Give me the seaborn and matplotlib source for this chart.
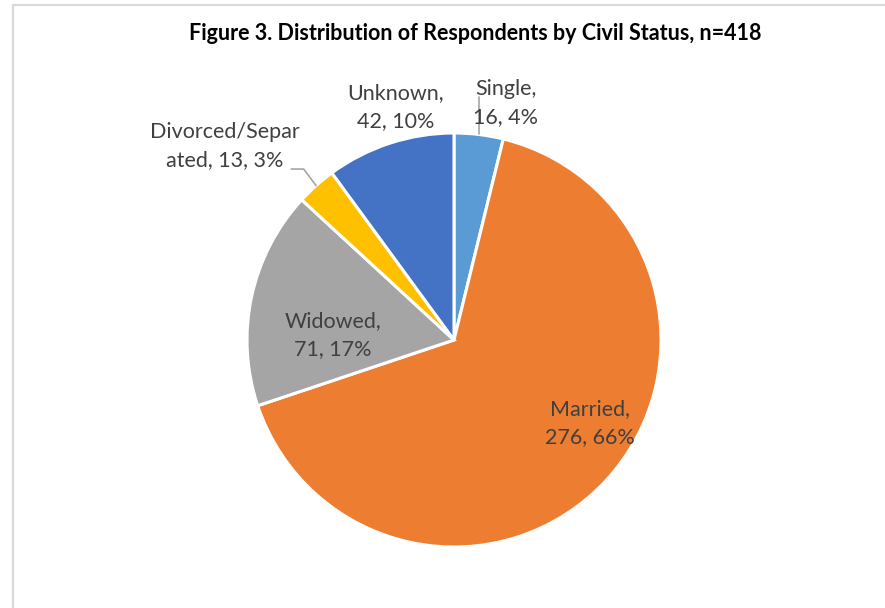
import numpy as np
import matplotlib
matplotlib.use("Agg")
import matplotlib.pyplot as plt
from matplotlib.lines import Line2D
import seaborn as sns

sns.set_style("white")
plt.rcParams['font.family'] = ['Lato', 'DejaVu Sans']

# data
categories = ['Single', 'Married', 'Widowed', 'Divorced/Separated', 'Unknown']
counts = [16, 276, 71, 13, 42]
percents = ['4%', '66%', '17%', '3%', '10%']
colors = ['#5B9BD5', '#ED7D31', '#A5A5A5', '#FFC000', '#4472C4']
label_text = ['Single,\n16, 4%', 'Married,\n276, 66%', 'Widowed,\n71, 17%',
              'Divorced/Separ\nated, 13, 3%', 'Unknown,\n42, 10%']

# label placement: (radius factor, angle shift in degrees from wedge middle)
label_pos = [(1.17, -5.5), (0.77, 11.0), (0.585, 9.8), (1.45, 8.0), (1.16, -4.0)]
leader = [True, False, False, True, False]

fig = plt.figure(figsize=(8.85, 6.08), dpi=100)
ax = fig.add_axes([0, 0, 1, 1])

wedges, _ = ax.pie(counts, colors=colors, startangle=90, counterclock=False,
                   radius=1.0, wedgeprops=dict(edgecolor='white', linewidth=2.2))

R_px = 207.0
cx, cy = 454.0, 340.0
ax.set_xlim(-cx / R_px, (885 - cx) / R_px)
ax.set_ylim((cy - 608) / R_px, cy / R_px)
ax.set_aspect('auto')
ax.axis('off')

for w, txt, (rf, shift), lead in zip(wedges, label_text, label_pos, leader):
    mid = np.deg2rad((w.theta1 + w.theta2) / 2)
    ang = mid + np.deg2rad(shift)
    x, y = rf * np.cos(ang), rf * np.sin(ang)
    ax.text(x, y, txt, ha='center', va='center', fontsize=15.5, color='#404040',
            linespacing=1.5)
    if lead:
        ex, ey = np.cos(mid), np.sin(mid)
        if txt.startswith('Single'):
            ax.plot([ex, ex], [ey, ey + 0.18], color='#A6A6A6', lw=1.2)
        else:
            ax.plot([ex, ex - 0.06, ex - 0.12], [ey, ey + 0.08, ey + 0.08],
                    color='#A6A6A6', lw=1.2)

fig.text(475 / 885, 1 - 34 / 608,
         'Figure 3. Distribution of Respondents by Civil Status, n=418',
         ha='center', va='center', fontsize=15.5, fontweight='bold',
         color='black')

# chart area border (cut off at right and bottom)
fig.add_artist(Line2D([12.5 / 885, 12.5 / 885], [0, 1 - 5 / 608],
                      color='#D9D9D9', lw=1.6, transform=fig.transFigure))
fig.add_artist(Line2D([12.5 / 885, 1], [1 - 5 / 608, 1 - 5 / 608],
                      color='#D9D9D9', lw=1.6, transform=fig.transFigure))

fig.savefig('out.png', dpi=100)
